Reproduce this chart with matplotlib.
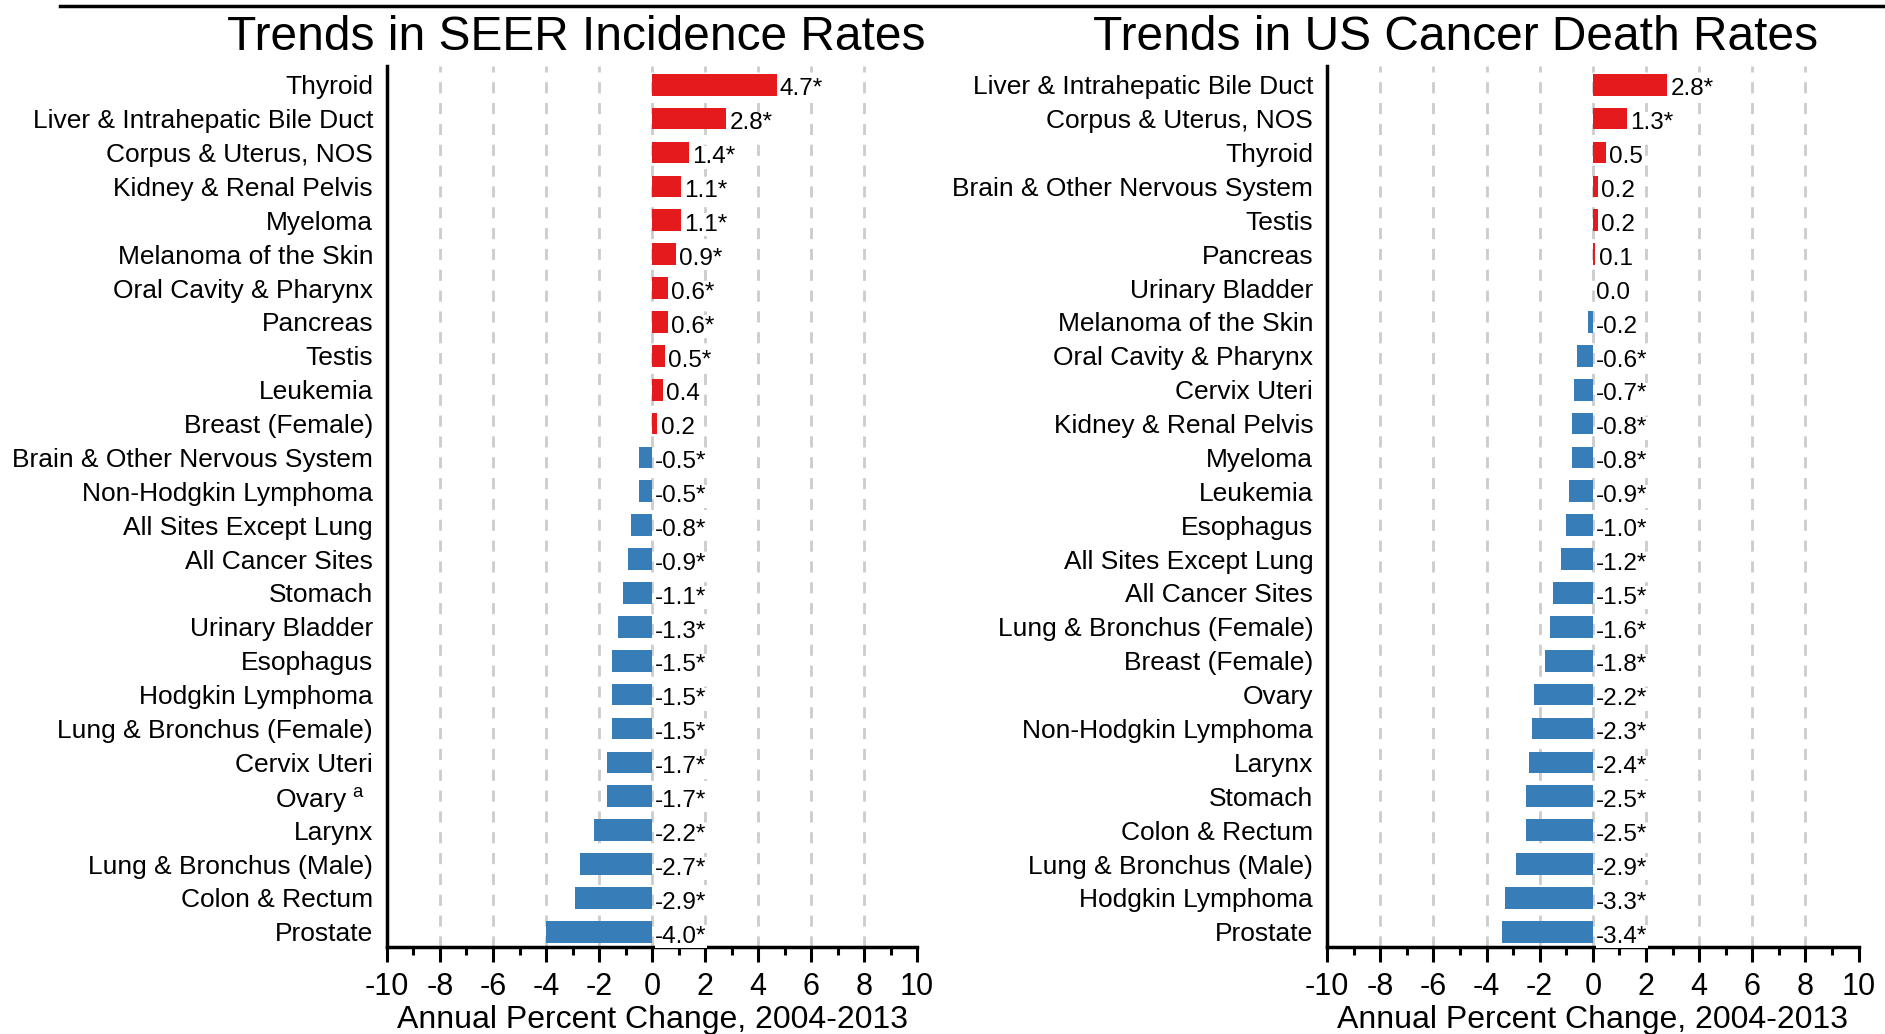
import matplotlib
matplotlib.use("Agg")
import matplotlib.pyplot as plt
from matplotlib import font_manager

# Incidence (left panel), top to bottom
inc_sites = ["Thyroid", "Liver & Intrahepatic Bile Duct", "Corpus & Uterus, NOS",
             "Kidney & Renal Pelvis", "Myeloma", "Melanoma of the Skin",
             "Oral Cavity & Pharynx", "Pancreas", "Testis", "Leukemia",
             "Breast (Female)", "Brain & Other Nervous System", "Non-Hodgkin Lymphoma",
             "All Sites Except Lung", "All Cancer Sites", "Stomach", "Urinary Bladder",
             "Esophagus", "Hodgkin Lymphoma", "Lung & Bronchus (Female)", "Cervix Uteri",
             "Ovary $^{\\rm a}$  ", "Larynx", "Lung & Bronchus (Male)", "Colon & Rectum",
             "Prostate"]
inc_apc = [4.7, 2.8, 1.4, 1.1, 1.1, 0.9, 0.6, 0.6, 0.5, 0.4, 0.2, -0.5, -0.5,
           -0.8, -0.9, -1.1, -1.3, -1.5, -1.5, -1.5, -1.7, -1.7, -2.2, -2.7, -2.9, -4.0]
inc_sig = [1, 1, 1, 1, 1, 1, 1, 1, 1, 0, 0, 1, 1, 1, 1, 1, 1, 1, 1, 1, 1, 1, 1, 1, 1, 1]

# Mortality (right panel), top to bottom
mort_sites = ["Liver & Intrahepatic Bile Duct", "Corpus & Uterus, NOS", "Thyroid",
              "Brain & Other Nervous System", "Testis", "Pancreas", "Urinary Bladder",
              "Melanoma of the Skin", "Oral Cavity & Pharynx", "Cervix Uteri",
              "Kidney & Renal Pelvis", "Myeloma", "Leukemia", "Esophagus",
              "All Sites Except Lung", "All Cancer Sites", "Lung & Bronchus (Female)",
              "Breast (Female)", "Ovary", "Non-Hodgkin Lymphoma", "Larynx", "Stomach",
              "Colon & Rectum", "Lung & Bronchus (Male)", "Hodgkin Lymphoma", "Prostate"]
mort_apc = [2.8, 1.3, 0.5, 0.2, 0.2, 0.1, 0.0, -0.2, -0.6, -0.7, -0.8, -0.8, -0.9,
            -1.0, -1.2, -1.5, -1.6, -1.8, -2.2, -2.3, -2.4, -2.5, -2.5, -2.9, -3.3, -3.4]
mort_sig = [1, 1, 0, 0, 0, 0, 0, 0, 1, 1, 1, 1, 1, 1, 1, 1, 1, 1, 1, 1, 1, 1, 1, 1, 1, 1]

titles = ["Trends in SEER Incidence Rates", "Trends in US Cancer Death Rates"]
xlab = "Annual Percent Change, 2004-2013"

RED = "#E41A1C"
BLUE = "#377EB8"

names = {f.name for f in font_manager.fontManager.ttflist}
base = "Liberation Sans" if "Liberation Sans" in names else "DejaVu Sans"
narrow = "Liberation Sans Narrow" if "Liberation Sans Narrow" in names else base
plt.rcParams["font.family"] = [base, "DejaVu Sans"]
plt.rcParams["mathtext.fontset"] = "custom"
plt.rcParams["mathtext.rm"] = base

fig = plt.figure(figsize=(18.85, 10.34), dpi=100)


def panel(rect, sites, apc, sig, title, title_x):
    ax = fig.add_axes(rect)
    y = list(range(len(sites)))
    cols = [RED if v > 0 else BLUE for v in apc]
    for x in range(-8, 9, 2):
        ax.axvline(x, color="#cccccc", lw=2, ls=(0, (4, 3.5)), zorder=0)
    ax.barh(y, apc, height=0.64, color=cols, zorder=2)
    for yi, v, s in zip(y, apc, sig):
        lab = "%.1f" % v + ("*" if s else "")
        ax.text(max(v, 0) + 0.12, yi + 0.14, lab, ha="left", va="center", fontsize=17.5,
                zorder=3, bbox=dict(facecolor="white", edgecolor="none", pad=0.3))
    ax.set_xlim(-10, 10)
    ax.set_ylim(25.45, -0.55)
    ax.set_yticks(y)
    ax.set_yticklabels(sites, fontsize=19)
    ax.tick_params(axis="y", length=0, pad=10)
    ax.set_xticks(range(-10, 11, 2))
    ax.set_xticks(range(-9, 10, 2), minor=True)
    ax.tick_params(axis="x", which="major", length=11, width=2.2, labelsize=22, pad=7)
    ax.tick_params(axis="x", which="minor", length=6, width=2.2)
    ax.set_xticklabels([str(t) for t in range(-10, 11, 2)])
    for sp in ["top", "right"]:
        ax.spines[sp].set_visible(False)
    for sp in ["left", "bottom"]:
        ax.spines[sp].set_linewidth(2.5)
    ax.set_xlabel(xlab, fontsize=23, labelpad=2)
    fig.text(title_x, 0.952, title, ha="center", va="baseline", fontsize=34.5,
             family=[narrow, base])
    return ax


panel([0.2053, 0.0841, 0.2812, 0.852], inc_sites, inc_apc, inc_sig, titles[0], 0.3055)
panel([0.704, 0.0841, 0.282, 0.852], mort_sites, mort_apc, mort_sig, titles[1], 0.772)

fig.add_artist(plt.Line2D([0.032, 1.0], [0.994, 0.994], color="black", lw=2.5,
                          transform=fig.transFigure))

fig.savefig("out.png", dpi=100)
